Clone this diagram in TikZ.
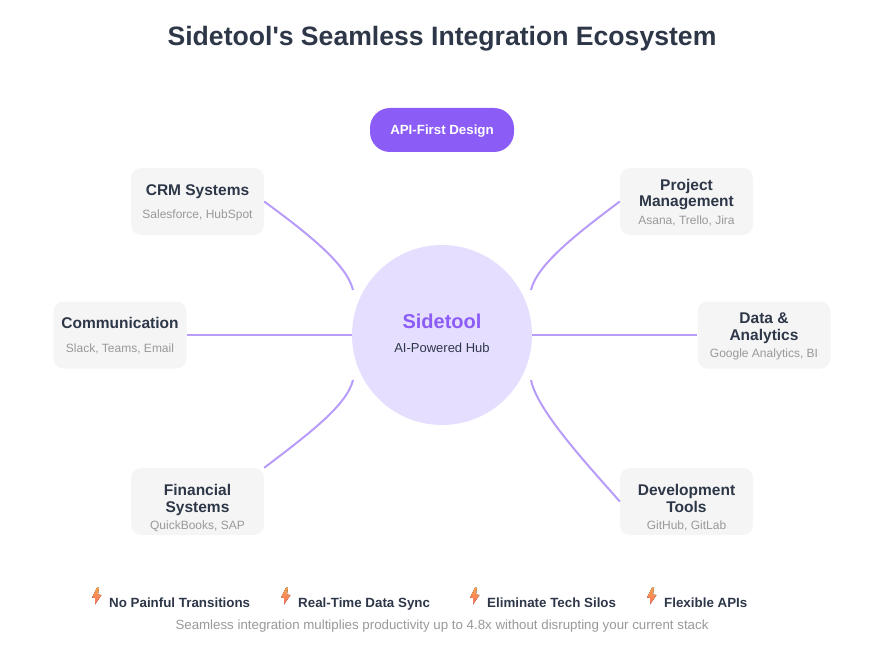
\documentclass[tikz,border=0pt]{standalone}
\usepackage{fontspec}
\setmainfont{Liberation Sans}[Ligatures=TeXOff]
\usetikzlibrary{positioning}
\definecolor{inkdark}{HTML}{2D3748}
\definecolor{inkgrey}{HTML}{999999}
\definecolor{brandpurple}{HTML}{8B5CF6}
\definecolor{brandlight}{HTML}{E6DEFF}
\definecolor{linkpurple}{HTML}{B79CF9}
\definecolor{boxgrey}{HTML}{F5F5F5}
\definecolor{bolttop}{HTML}{F9A24A}
\definecolor{boltlow}{HTML}{FB6F62}
\tikzset{
  link/.style={draw=linkpurple,line width=2pt},
  % system boxes
  sysbox/.style={fill=boxgrey,rounded corners=10pt,minimum width=133pt,minimum height=67pt,inner sep=0pt},
  boxhead/.style={anchor=base,inner sep=0pt,text=inkdark,font=\fontsize{15.5}{17}\selectfont\bfseries},
  boxsub/.style={anchor=base,inner sep=0pt,text=inkgrey,font=\fontsize{12}{14}\selectfont},
  hub/.style={circle,fill=brandlight,minimum size=180pt,inner sep=0pt},
  pill/.style={fill=brandpurple,rounded corners=20pt,minimum width=144pt,minimum height=44pt,
    inner sep=0pt,text=white,text depth=0pt,font=\fontsize{13.3}{15}\selectfont\bfseries},
  feat/.style={anchor=base west,inner sep=0pt,text=inkdark,font=\fontsize{13.35}{15}\selectfont\bfseries},
  bolt/.style={top color=bolttop,bottom color=boltlow,draw=none}
}
\begin{document}
\begin{tikzpicture}[x=1pt,y=-1pt]
  \useasboundingbox (0,0) rectangle (886,666);

  %--- title
  \node[font=\fontsize{26.6}{32}\selectfont\bfseries,text=inkdark] (title) at (442,38.5) {Sidetool's Seamless Integration Ecosystem};

  %--- hub and pill
  \node[hub] (center) at (442,335) {};
  \node[anchor=base,inner sep=0pt,text=brandpurple,font=\fontsize{20}{22}\selectfont\bfseries] (centername) at (442,328.5) {Sidetool};
  \node[anchor=base,inner sep=0pt,text=inkdark,font=\fontsize{13}{14}\selectfont] (centersub) at (442,352) {AI-Powered Hub};
  \node[pill] (api) at (442,130) {API-First Design};

  %--- system boxes
  \foreach \name/\x/\y in {crm/197.5/201.5,proj/686.5/201.5,comm/120/335,data/764/335,fin/197.5/501.5,dev/686.5/501.5}{
    \node[sysbox] (\name) at (\x,\y) {};
  }

  %--- box labels (baselines fixed per box)
  \node[boxhead] (crmhead) at (197.5,195.5) {CRM Systems};
  \node[boxsub]  (crmsub)  at (197.5,218) {Salesforce, HubSpot};
  \node[boxhead] (projheada) at (686.5,190.5) {Project};
  \node[boxhead] (projheadb) at (686.5,206.5) {Management};
  \node[boxsub]  (projsub)   at (686.5,224) {Asana, Trello, Jira};
  \node[boxhead] (commhead) at (120,328.5) {Communication};
  \node[boxsub]  (commsub)  at (120,352) {Slack, Teams, Email};
  \node[boxhead] (dataheada) at (764,323.5) {Data \&};
  \node[boxhead] (dataheadb) at (764,340.5) {Analytics};
  \node[boxsub]  (datasub)   at (764,357) {Google Analytics, BI};
  \node[boxhead] (finheada) at (197.5,495.5) {Financial};
  \node[boxhead] (finheadb) at (197.5,512) {Systems};
  \node[boxsub]  (finsub)   at (197.5,529) {QuickBooks, SAP};
  \node[boxhead] (devheada) at (686.5,495.5) {Development};
  \node[boxhead] (devheadb) at (686.5,512) {Tools};
  \node[boxsub]  (devsub)   at (686.5,529) {GitHub, GitLab};

  %--- connector ends beside the hub
  \coordinate (hubNW) at (353,290);
  \coordinate (hubNE) at (531,290);
  \coordinate (hubSW) at (353,380);
  \coordinate (hubSE) at (531,380);

  %--- connectors
  \draw[link] (crm.east) .. controls (310,235) and (347,265) .. (hubNW);
  \draw[link] (proj.west) .. controls (575,235) and (537,265) .. (hubNE);
  \draw[link] (fin.north east) .. controls (310,433) and (347,405) .. (hubSW);
  \draw[link] (dev.west) .. controls (585,462) and (537,410) .. (hubSE);
  \draw[link] (comm.east) -- (center.west);
  \draw[link] (center.east) -- (data.west);

  %--- features with bolts
  \foreach \n/\x/\txt in {a/109/No Painful Transitions,b/298/Real-Time Data Sync,c/487/Eliminate Tech Silos,d/664/Flexible APIs}{
    \node[feat] (feat\n) at (\x,607) {\txt};
    \fill[bolt] (\x-12,587.5) -- (\x-17,597.5) -- (\x-14,598) -- (\x-14,604.5) -- (\x-7.5,595) -- (\x-11,594.5) -- (\x-10,587.5) -- cycle;
  }

  %--- note
  \node[font=\fontsize{13.3}{15}\selectfont,text=inkgrey] (note) at (442,626.5) {Seamless integration multiplies productivity up to 4.8x without disrupting your current stack};
\end{tikzpicture}
\end{document}
